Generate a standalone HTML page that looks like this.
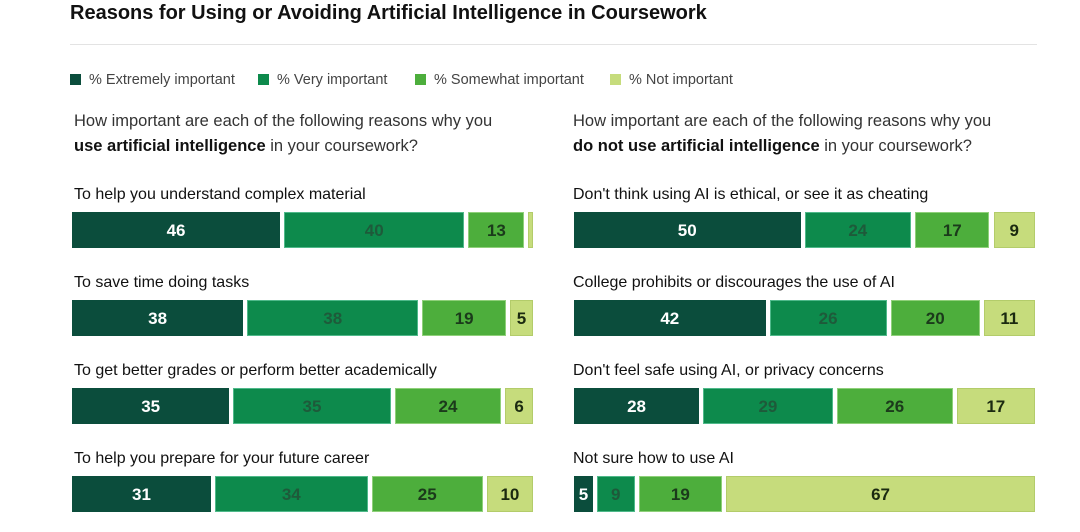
<!DOCTYPE html>
<html><head><meta charset="utf-8"><style>
body{margin:0;width:1080px;height:532px;background:#fff;font-family:"Liberation Sans",sans-serif;overflow:hidden;position:relative;color:#1a1a1a}
.t{position:absolute;white-space:nowrap}
</style></head><body>
<div class="t" style="left:70px;top:2px;font-size:20px;font-weight:bold;color:#111">Reasons for Using or Avoiding Artificial Intelligence in Coursework</div>
<div style="position:absolute;left:70px;top:44px;width:967px;height:1px;background:#e3e3e3"></div>
<div id="legend"></div>
<div class="t" style="left:74px;top:109px;font-size:16.5px;line-height:25px;color:#333">How important are each of the following reasons why you<br><b style="color:#111">use artificial intelligence</b> in your coursework?</div>
<div class="t" style="left:573px;top:109px;font-size:16.5px;line-height:25px;color:#333">How important are each of the following reasons why you<br><b style="color:#111">do not use artificial intelligence</b> in your coursework?</div>
<div id="charts"></div>
<script>
const seriesNames=["% Extremely important","% Very important","% Somewhat important","% Not important"];
const leftCategories=["To help you understand complex material","To save time doing tasks","To get better grades or perform better academically","To help you prepare for your future career"];
const leftExtreme=[46,38,35,31];
const leftVery=[40,38,35,34];
const leftSomewhat=[13,19,24,25];
const leftNot=[1,5,6,10];
const rightCategories=["Don't think using AI is ethical, or see it as cheating","College prohibits or discourages the use of AI","Don't feel safe using AI, or privacy concerns","Not sure how to use AI"];
const rightExtreme=[50,42,28,5];
const rightVery=[24,26,29,9];
const rightSomewhat=[17,20,26,19];
const rightNot=[9,11,17,67];
const colors=["#0b4d3c","#0d8a4c","#4dae3c","#c6dc7c"];
const borders=["#0b4d3c","#4fb98a","#8fd07a","#b3cc6a"];
const textColors=["#fff","#1e5a3a","#1b3a1b","#1b2a10"];
const leg=document.getElementById('legend');
let lx=70;
const legW=[188,157,195,130];
seriesNames.forEach((n,i)=>{
  const d=document.createElement('div');d.className='t';
  
  
  d.style.cssText=`left:${lx}px;top:72px;font-size:14.5px;color:#444`;
  d.innerHTML=`<span style="display:inline-block;width:11px;height:11px;background:${colors[i]};margin-right:8px;vertical-align:-1px"></span>${n}`;
  leg.appendChild(d);lx+=legW[i];
});
const C=document.getElementById('charts');
function chart(x0,W,cats,series,prefix,lx0){
  cats.forEach((c,r)=>{
    const total=series.reduce((a,s)=>a+s[r],0);
    const xs=v=>v*W/total;
    const y=212+r*88;
    const l=document.createElement('div');l.className='t';
    
    
    l.style.cssText=`left:${lx0}px;top:${y-26}px;font-size:16px;color:#111`;
    l.textContent=c;C.appendChild(l);
    let cum=0;
    series.forEach((s,i)=>{
      const v=s[r];
      const last=i===series.length-1;
      const b=document.createElement('div');
      
      
      const w=xs(v)-(last?0:4);
      b.style.cssText=`position:absolute;box-sizing:border-box;left:${x0+xs(cum)}px;top:${y}px;width:${Math.max(w,3)}px;height:36px;padding-top:2px;background:${colors[i]};border:1px solid ${borders[i]};color:${textColors[i]};font-size:17px;font-weight:bold;display:flex;align-items:center;justify-content:center;overflow:hidden`;
      if(v>=3)b.textContent=v;
      C.appendChild(b);cum+=v;
    });
  });
}
chart(72,461,leftCategories,[leftExtreme,leftVery,leftSomewhat,leftNot],'left',74);
chart(574,461,rightCategories,[rightExtreme,rightVery,rightSomewhat,rightNot],'right',573);
</script>
</body></html>
